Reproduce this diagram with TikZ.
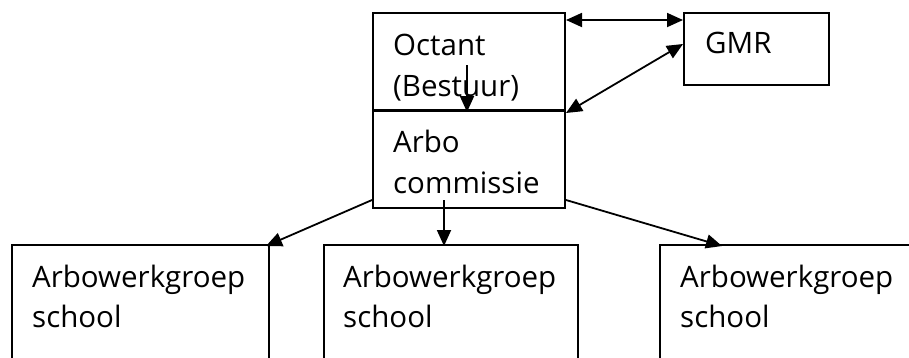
\documentclass[tikz,border=0pt]{standalone}
\usepackage{fontspec}
\setmainfont{Open Sans}
\usetikzlibrary{arrows.meta}
\begin{document}
\begin{tikzpicture}[x=1pt,y=-1pt,
  box/.style={draw=black,line width=2pt,inner sep=0pt},
  txt/.style={anchor=base west,inner sep=0pt,font=\fontsize{29.5}{40}\selectfont},
  conn/.style={line width=1.8pt,-{Triangle[length=16pt,width=14pt]}},
  conn2/.style={line width=1.8pt,{Triangle[length=16pt,width=14pt]}-{Triangle[length=16pt,width=14pt]}}]
\useasboundingbox (0,0) rectangle (909,357);
\clip (0,0) rectangle (909,357);
% boxes
\node[box,anchor=north west,minimum width=192pt,minimum height=97pt] (oct) at (372,12) {};
\node[box,anchor=north west,minimum width=192pt,minimum height=97pt] (arbo) at (372,110) {};
\node[box,anchor=north west,minimum width=145pt,minimum height=72pt] (gmr) at (683,12) {};
\node[box,anchor=north west,minimum width=257pt,minimum height=140pt] (s1) at (11,244) {};
\node[box,anchor=north west,minimum width=254pt,minimum height=140pt] (s2) at (323,244) {};
\node[box,anchor=north west,minimum width=280pt,minimum height=140pt] (s3) at (659,244) {};
% texts
\node[txt] (t1) at (393,55) {Octant};
\node[txt] (t2) at (393,96) {(Bestuur)};
\node[txt] (t3) at (393,152) {Arbo};
\node[txt] (t4) at (393,193) {commissie};
\node[txt] (t5) at (705,53) {GMR};
\node[txt] (t6) at (32,287) {Arbowerkgroep};
\node[txt] (t7) at (32,327) {school};
\node[txt] (t8) at (343,287) {Arbowerkgroep};
\node[txt] (t9) at (343,327) {school};
\node[txt] (t10) at (680,287) {Arbowerkgroep};
\node[txt] (t11) at (680,327) {school};
% connector end points
\coordinate (octR) at (oct.east |- 0,20);
\coordinate (gmrL) at (gmr.west |- 0,20);
\coordinate (gmrL2) at (gmr.west |- 0,44);
\coordinate (arboTR) at (566,113);
\coordinate (octIn) at (467,65);
\coordinate (arboTop) at (467,112);
\coordinate (arboL) at (arbo.west |- 0,200);
\coordinate (arboM) at (444,200);
\coordinate (arboR) at (arbo.east |- 0,200);
\coordinate (s1in) at (266,246);
\coordinate (s2in) at (444,246);
\coordinate (s3in) at (722,246);
% connectors
\draw[conn2] (octR) -- (gmrL);
\draw[conn2] (gmrL2) -- (arboTR);
\draw[conn] (octIn) -- (arboTop);
\draw[conn] (arboL) -- (s1in);
\draw[conn] (arboM) -- (s2in);
\draw[conn] (arboR) -- (s3in);
\end{tikzpicture}
\end{document}
